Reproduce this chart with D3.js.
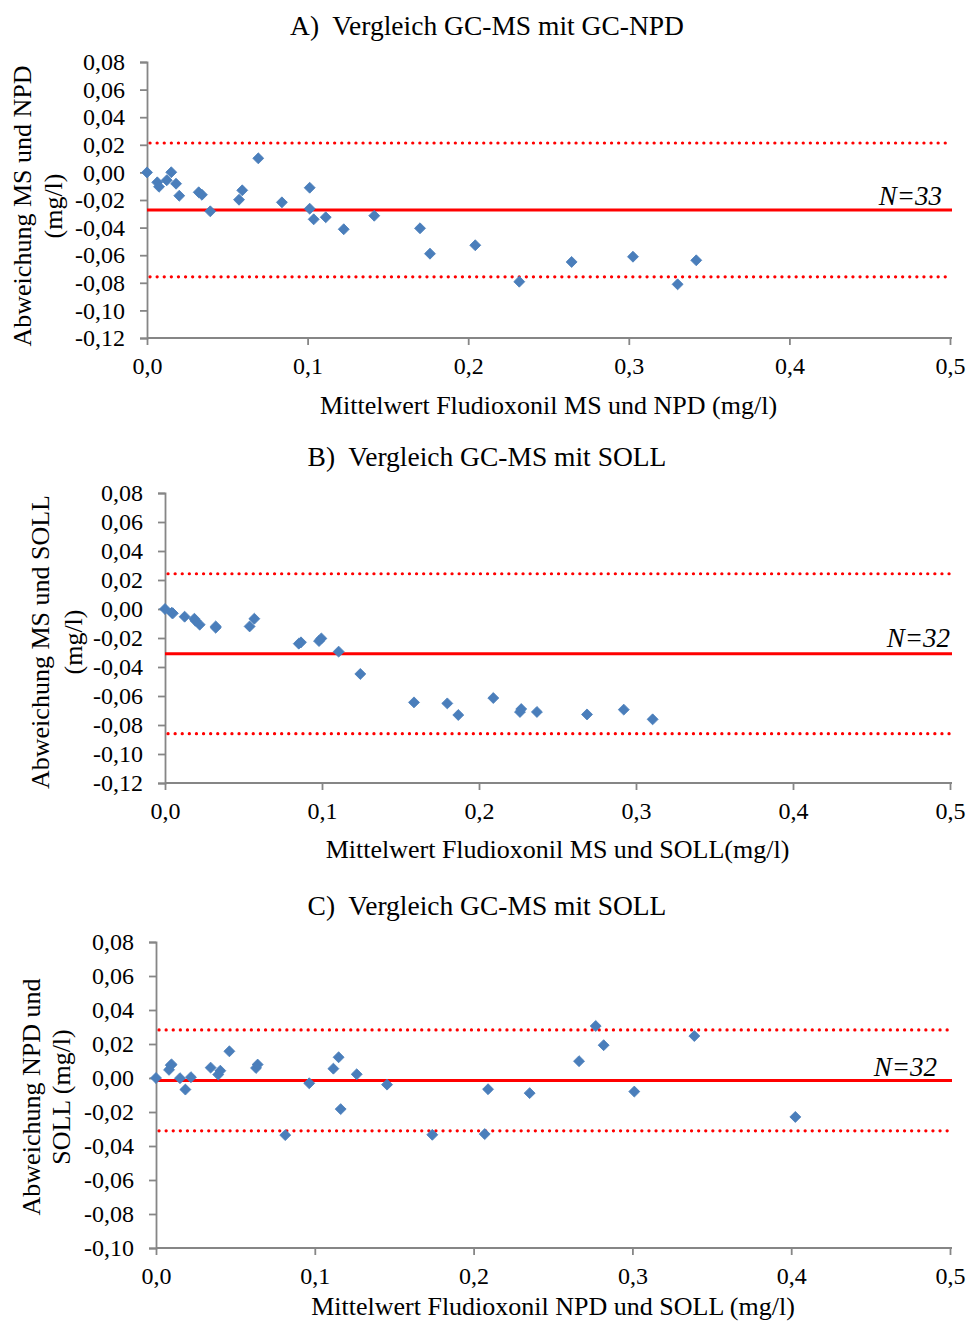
<!DOCTYPE html>
<html>
<head>
<meta charset="utf-8">
<script src="https://cdn.jsdelivr.net/npm/d3@7"></script>
<style>
  body { margin: 0; background: #fff; }
  text { font-family: "Liberation Serif", "Times New Roman", serif; fill: #000; }
</style>
</head>
<body>
<div id="chart"></div>
<script>
// Bland-Altman style plots, three panels

// tick values
var xTicks = [0, 0.1, 0.2, 0.3, 0.4, 0.5];
var yTicksAB = [-0.12, -0.10, -0.08, -0.06, -0.04, -0.02, 0, 0.02, 0.04, 0.06, 0.08];
var yTicksC = [-0.10, -0.08, -0.06, -0.04, -0.02, 0, 0.02, 0.04, 0.06, 0.08];

// panel A: GC-MS vs GC-NPD
var aX = [0, 0.0064, 0.0075, 0.0123, 0.0151, 0.0181, 0.0201, 0.0322, 0.0342, 0.0394,
          0.0573, 0.0593, 0.0693, 0.0840, 0.1013, 0.1013, 0.1038, 0.1113, 0.1225, 0.1415,
          0.1700, 0.1762, 0.2044, 0.2318, 0.2644, 0.3026, 0.3304, 0.3420];
var aY = [0, -0.0072, -0.0104, -0.0057, 0.0001, -0.0082, -0.0169, -0.0144, -0.0162, -0.0282,
          -0.0198, -0.0130, 0.0102, -0.0217, -0.0111, -0.0263, -0.0340, -0.0325, -0.0412, -0.0314,
          -0.0405, -0.0589, -0.0528, -0.0792, -0.0649, -0.0611, -0.0811, -0.0637];
var aLines = [-0.0272, 0.0213, -0.0757]; // mean, upper, lower

// panel B: GC-MS vs SOLL
var bX = [0, 0.0043, 0.0050, 0.0125, 0.0187, 0.0194, 0.0221, 0.0323, 0.0323, 0.0539,
          0.0569, 0.0852, 0.0866, 0.0981, 0.0996, 0.1106, 0.1244, 0.1586, 0.1798, 0.1868,
          0.2091, 0.2261, 0.2269, 0.2369, 0.2688, 0.2922, 0.3106];
var bY = [0, -0.0026, -0.0030, -0.0053, -0.0067, -0.0081, -0.0108, -0.0120, -0.0129, -0.0120,
          -0.0067, -0.0239, -0.0230, -0.0221, -0.0203, -0.0294, -0.0448, -0.0644, -0.0651, -0.0731,
          -0.0614, -0.0710, -0.0690, -0.0710, -0.0727, -0.0694, -0.0761];
var bLines = [-0.0309, 0.0243, -0.0860];

// panel C: GC-NPD vs SOLL
var cX = [0, 0.0082, 0.0093, 0.0098, 0.0151, 0.0185, 0.0220, 0.0344, 0.0392, 0.0405,
          0.0462, 0.0630, 0.0640, 0.0814, 0.0965, 0.1117, 0.1150, 0.1163, 0.1264, 0.1455,
          0.1740, 0.2070, 0.2091, 0.2353, 0.2664, 0.2769, 0.2819, 0.3012, 0.3390, 0.4026];
var cY = [0, 0.0048, 0.0075, 0.0080, -0.0001, -0.0068, 0.0005, 0.0061, 0.0020, 0.0043,
          0.0157, 0.0059, 0.0079, -0.0336, -0.0031, 0.0055, 0.0122, -0.0183, 0.0022, -0.0039,
          -0.0334, -0.0330, -0.0066, -0.0089, 0.0099, 0.0306, 0.0193, -0.0080, 0.0247, -0.0229];
var cLines = [-0.0014, 0.0283, -0.0311];

var titles = ["A)  Vergleich GC-MS mit GC-NPD", "B)  Vergleich GC-MS mit SOLL", "C)  Vergleich GC-MS mit SOLL"];
var xTitles = ["Mittelwert Fludioxonil MS und NPD (mg/l)", "Mittelwert Fludioxonil MS und SOLL(mg/l)", "Mittelwert Fludioxonil NPD und SOLL (mg/l)"];
var yTitles = [["Abweichung MS und NPD", "(mg/l)"], ["Abweichung MS und SOLL", "(mg/l)"], ["Abweichung NPD und", "SOLL (mg/l)"]];
var nLabels = ["N=33", "N=32", "N=32"];

var width = 966, height = 1322;

var loc = d3.formatLocale({decimal: ",", thousands: ".", grouping: [3], currency: ["", ""], minus: "-"});
var fmtY = loc.format(".2f"), fmtX = loc.format(".1f");

var svg = d3.select("#chart").append("svg")
    .attr("width", width)
    .attr("height", height);

// layout of each plot area (pixels)
var panels = [
  {x: aX, y: aY, lines: aLines, yTicks: yTicksAB, left: 147, right: 950, top: 62, bottom: 338,
   titleY: 25, xTitleY: 405, yTitleX: [22, 53], yTitleDy: 6, nX: 942, nY: 205},
  {x: bX, y: bY, lines: bLines, yTicks: yTicksAB, left: 165, right: 950, top: 493, bottom: 783,
   titleY: 456, xTitleY: 849, yTitleX: [40, 73], yTitleDy: 4, nX: 950, nY: 647},
  {x: cX, y: cY, lines: cLines, yTicks: yTicksC, left: 156, right: 950, top: 942, bottom: 1248,
   titleY: 905, xTitleY: 1306, yTitleX: [31, 61], yTitleDy: 2, nX: 937, nY: 1076}
];

var axisColor = "#868686";
var red = "#ff0000";
var blue = "#4a7ebb";

panels.forEach(function(p, i) {
  var yTicks = p.yTicks;
  var x = d3.scaleLinear().domain([0, 0.5]).range([p.left, p.right]);
  var y = d3.scaleLinear().domain([yTicks[0], yTicks[yTicks.length - 1]]).range([p.bottom, p.top]);

  var g = svg.append("g");

  // title (keeps the double space after the letter)
  g.append("text")
      .attr("x", 487)
      .attr("y", p.titleY)
      .attr("dy", "0.35em")
      .attr("text-anchor", "middle")
      .style("font-size", "27.5px")
      .style("white-space", "pre")
      .text(titles[i]);

  // y axis
  var yAxis = g.append("g")
      .attr("transform", "translate(" + p.left + ",0)")
      .call(d3.axisLeft(y).tickValues(yTicks).tickFormat(fmtY).tickSize(7).tickPadding(15));

  // x axis at the bottom
  var xAxis = g.append("g")
      .attr("transform", "translate(0," + p.bottom + ")")
      .call(d3.axisBottom(x).tickValues(xTicks).tickFormat(fmtX).tickSize(7).tickPadding(12));

  [yAxis, xAxis].forEach(function(ax) {
    ax.select(".domain").attr("stroke", axisColor).attr("stroke-width", 1.8);
    ax.selectAll(".tick line").attr("stroke", axisColor).attr("stroke-width", 1.8);
    ax.selectAll(".tick text")
        .attr("fill", "#000")
        .style("font-family", "Liberation Serif, Times New Roman, serif")
        .style("font-size", "24px");
  });
  xAxis.select(".domain").attr("d", "M" + p.left + ",0H" + (p.right + 2));

  // axis titles
  g.append("text")
      .attr("x", (p.left + p.right) / 2)
      .attr("y", p.xTitleY)
      .attr("dy", "0.35em")
      .attr("text-anchor", "middle")
      .style("font-size", "26px")
      .text(xTitles[i]);

  var cy = (p.top + p.bottom) / 2 + p.yTitleDy;
  yTitles[i].forEach(function(t, j) {
    g.append("text")
        .attr("transform", "translate(" + p.yTitleX[j] + "," + cy + ") rotate(-90)")
        .attr("dy", "0.35em")
        .attr("text-anchor", "middle")
        .style("font-size", "26px")
        .text(t);
  });

  // mean and limit lines
  g.append("line")
      .attr("x1", x(0)).attr("x2", x(0.5) + 2)
      .attr("y1", y(p.lines[0])).attr("y2", y(p.lines[0]))
      .attr("stroke", red).attr("stroke-width", 3);

  g.selectAll(".limit")
    .data(p.lines.slice(1))
    .enter().append("line")
      .attr("class", "limit")
      .attr("x1", x(0) + 3).attr("x2", x(0.5) + 2)
      .attr("y1", function(d) { return y(d); })
      .attr("y2", function(d) { return y(d); })
      .attr("stroke", red)
      .attr("stroke-width", 3.2)
      .attr("stroke-linecap", "round")
      .attr("stroke-dasharray", "0.1 7");

  // points (diamonds)
  var diamond = d3.symbol().type(d3.symbolSquare).size(60);
  g.selectAll(".pt")
    .data(d3.range(p.x.length))
    .enter().append("path")
      .attr("class", "pt")
      .attr("d", diamond)
      .attr("fill", blue)
      .attr("stroke", blue)
      .attr("stroke-width", 0.8)
      .attr("stroke-linejoin", "round")
      .attr("transform", function(k) {
        return "translate(" + x(p.x[k]) + "," + y(p.y[k]) + ") rotate(45)";
      });

  // N label
  g.append("text")
      .attr("x", p.nX)
      .attr("y", p.nY)
      .attr("text-anchor", "end")
      .style("font-size", "27px")
      .style("font-style", "italic")
      .text(nLabels[i]);
});
</script>
</body>
</html>
